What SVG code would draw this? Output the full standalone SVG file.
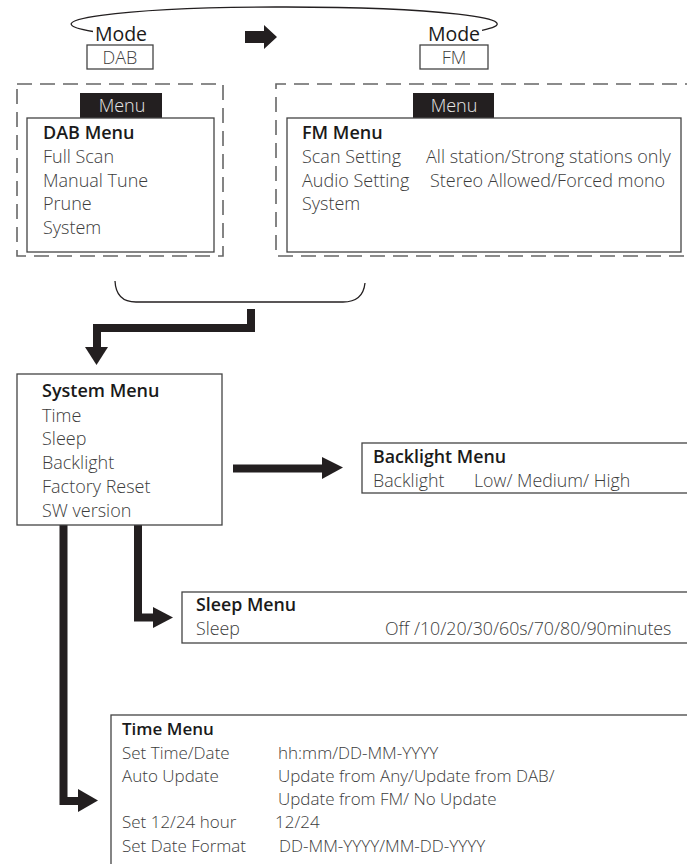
<svg xmlns="http://www.w3.org/2000/svg" width="687" height="864" viewBox="0 0 687 864">
<style>
text{font-family:"Open Sans","Noto Sans","Liberation Sans",sans-serif}
.h{font-size:18px;font-weight:600;fill:#1a1a1a}
.i{font-size:18px;font-weight:300;fill:#3c3c3c}
.hs{font-size:17px;font-weight:600;fill:#1a1a1a}
.is{font-size:17px;font-weight:300;fill:#3c3c3c}
.hm{font-size:17.8px;font-weight:600;fill:#1a1a1a}
.im{font-size:17.8px;font-weight:300;fill:#3c3c3c}
.box{fill:#fff;stroke:#444;stroke-width:1.3}
.dash{fill:none;stroke:#666;stroke-width:1.6;stroke-dasharray:15 8}
.tab{fill:#231f20}
.tabt{font-size:18px;font-weight:300;fill:#e6e6e6;text-anchor:middle}
.bar{fill:none;stroke:#231f20;stroke-width:8;stroke-linejoin:miter}
.head{fill:#231f20}
.thin{fill:none;stroke:#231f20;stroke-width:1.3}
</style>
<g id="connectors">
<path class="thin" d="M93,31.5 A213,17 0 1 1 482,30.3"/>
<path class="head" d="M245,31 L264,31 L264,25 L277,37 L264,49 L264,43 L245,43 Z"/>
<path class="thin" d="M115,281 Q116,302 136,302 L343,302 Q363,302 365,283"/>
<path class="bar" d="M251,309 L251,328 L97,328 L97,348"/>
<path class="head" d="M85,347 L108,347 L96.5,365 Z"/>
<path class="bar" d="M233,468.5 L324,468.5"/>
<path class="head" d="M322,457 L343,467.5 L322,479 Z"/>
<path class="bar" d="M138,525 L138,617.5 L155,617.5"/>
<path class="head" d="M153,607 L173,617.5 L153,628 Z"/>
<path class="bar" d="M63.5,525 L63.5,801 L80,801"/>
<path class="head" d="M78,789 L98,800.5 L78,812 Z"/>
</g>
<g id="mode-dab">
<text x="121" y="41" text-anchor="middle" style="font-size:19.5px;font-weight:500;fill:#1a1a1a">Mode</text>
<rect class="box" x="87" y="45" width="66" height="24"/>
<text class="i" x="120" y="64" text-anchor="middle">DAB</text>
</g>
<g id="mode-fm">
<text x="454" y="41" text-anchor="middle" style="font-size:19.5px;font-weight:500;fill:#1a1a1a">Mode</text>
<rect class="box" x="420" y="45" width="68" height="24"/>
<text class="i" x="454" y="64" text-anchor="middle">FM</text>
</g>
<g id="dab-menu">
<rect class="dash" x="17" y="84" width="206" height="172"/>
<rect class="tab" x="80" y="93" width="82" height="25"/>
<text class="tabt" x="122" y="112">Menu</text>
<rect class="box" x="27" y="118" width="187" height="134"/>
<text class="h" x="43" y="139">DAB Menu</text>
<text class="i" x="43" y="163">Full Scan</text>
<text class="i" x="43" y="187">Manual Tune</text>
<text class="i" x="43" y="210">Prune</text>
<text class="i" x="43" y="234">System</text>
</g>
<g id="fm-menu">
<path class="dash" d="M700,84 L276,84 L276,256 L700,256"/>
<rect class="tab" x="413" y="93" width="81" height="25"/>
<text class="tabt" x="454" y="112">Menu</text>
<rect class="box" x="287" y="118" width="394" height="134"/>
<text class="h" x="302" y="139">FM Menu</text>
<text class="i" x="302" y="163">Scan Setting</text>
<text class="i" x="426" y="163">All station/Strong stations only</text>
<text class="i" x="302" y="187">Audio Setting</text>
<text class="i" x="430" y="187">Stereo Allowed/Forced mono</text>
<text class="i" x="302" y="210">System</text>
</g>
<g id="system-menu">
<rect class="box" x="17" y="374" width="205" height="151"/>
<text class="h" x="42" y="397">System Menu</text>
<text class="i" x="42" y="422">Time</text>
<text class="i" x="42" y="445">Sleep</text>
<text class="i" x="42" y="469">Backlight</text>
<text class="i" x="42" y="493">Factory Reset</text>
<text class="i" x="42" y="517">SW version</text>
</g>
<g id="backlight-menu">
<rect class="box" x="362" y="443" width="340" height="50"/>
<text class="hm" x="373" y="463">Backlight Menu</text>
<text class="im" x="373" y="487">Backlight</text>
<text class="im" x="474" y="487">Low/ Medium/ High</text>
</g>
<g id="sleep-menu">
<rect class="box" x="182" y="592" width="520" height="51"/>
<text class="hm" x="196" y="611">Sleep Menu</text>
<text class="im" x="196" y="635">Sleep</text>
<text class="im" x="385" y="635">Off /10/20/30/60s/70/80/90minutes</text>
</g>
<g id="time-menu">
<rect class="box" x="111" y="715" width="590" height="170"/>
<text class="hs" x="122" y="735">Time Menu</text>
<text class="is" x="122" y="759">Set Time/Date</text>
<text class="is" x="278" y="759">hh:mm/DD-MM-YYYY</text>
<text class="is" x="122" y="782">Auto Update</text>
<text class="is" x="278" y="782">Update from Any/Update from DAB/</text>
<text class="is" x="278" y="805">Update from FM/ No Update</text>
<text class="is" x="122" y="828">Set 12/24 hour</text>
<text class="is" x="275" y="828">12/24</text>
<text class="is" x="122" y="852">Set Date Format</text>
<text class="is" x="279" y="852">DD-MM-YYYY/MM-DD-YYYY</text>
</g>
</svg>
